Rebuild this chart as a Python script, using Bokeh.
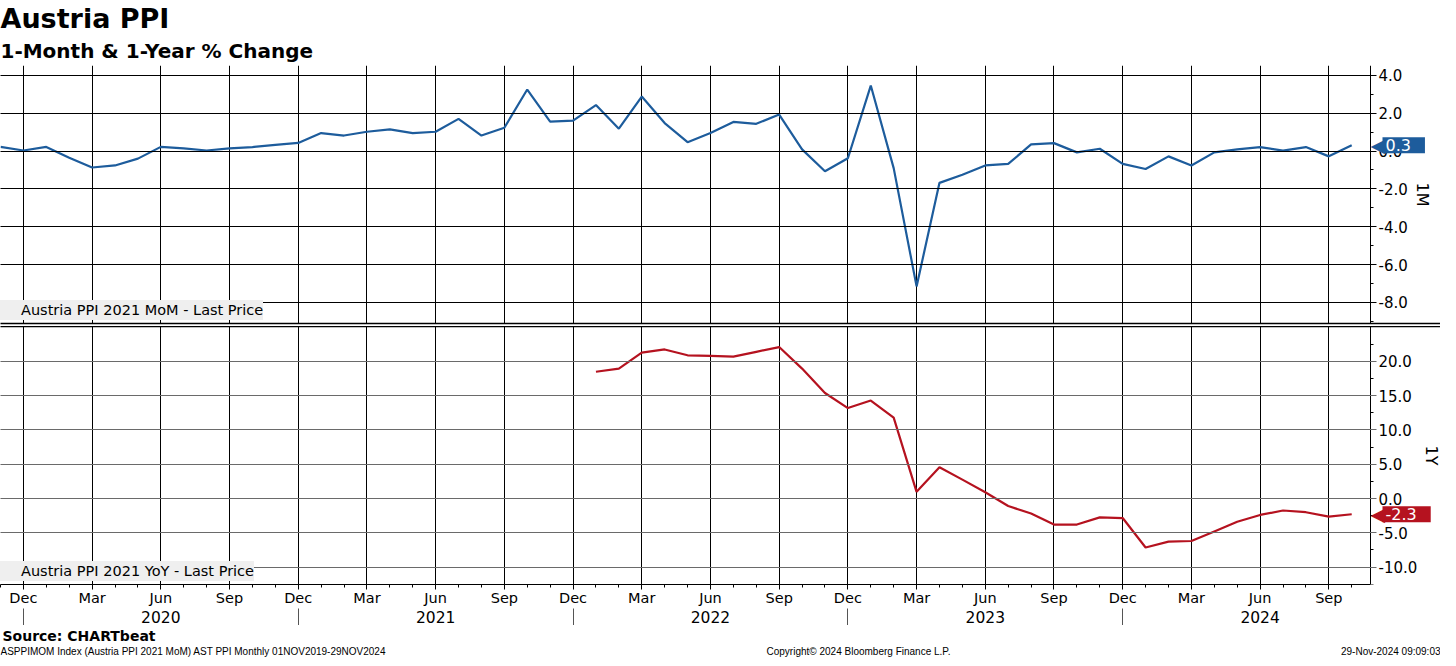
import numpy as np
import pandas as pd
from bokeh.plotting import figure
from bokeh.models import (FixedTicker, LinearAxis, Range1d, Label, Legend, LegendItem,
                          Title, NumeralTickFormatter)
from bokeh.core.properties import value
from bokeh.layouts import column
from bokeh.embed import file_html
from bokeh.resources import INLINE

# ---------------- data ----------------
months = [p.strftime("%Y-%m") for p in pd.period_range("2019-11", "2024-10", freq="M")]

mom = [0.22, 0.03,
       0.22, -0.35, -0.87, -0.76, -0.40, 0.22, 0.14, 0.03, 0.14, 0.21, 0.33, 0.43,
       0.95, 0.82, 1.02, 1.15, 0.95, 1.02, 1.70, 0.82, 1.23, 3.25, 1.56, 1.61,
       2.43, 1.18, 2.88, 1.48, 0.47, 0.95, 1.54, 1.44, 1.93, 0.09, -1.07, -0.38,
       3.46, -0.90, -7.15, -1.68, -1.25, -0.76, -0.68, 0.35, 0.42, -0.07, 0.12, -0.68,
       -0.95, -0.28, -0.76, -0.07, 0.09, 0.21, 0.02, 0.21, -0.28, 0.31]

yoy_months = months[months.index("2022-01"):]
yoy = [18.5, 18.96, 21.3, 21.75, 20.9, 20.8, 20.7, 21.4, 22.1, 18.96, 15.4, 13.2,
       14.3, 11.8, 0.97, 4.55, 2.75, 0.92, -1.1, -2.2, -3.8, -3.8, -2.75, -2.85,
       -7.15, -6.3, -6.2, -4.8, -3.4, -2.4, -1.75, -2.0, -2.65, -2.3]

mom_ticks = [-8, -6, -4, -2, 0, 2, 4]
mom_minor = [-9, -7, -5, -3, -1, 1, 3]
yoy_ticks = [-10, -5, 0, 5, 10, 15, 20]
yoy_minor = [-12.5, -7.5, -2.5, 2.5, 7.5, 12.5, 17.5, 22.5]

title_text = "Austria PPI"
subtitle_text = "1-Month & 1-Year % Change"
mom_name = "Austria PPI 2021 MoM - Last Price"
yoy_name = "Austria PPI 2021 YoY - Last Price"
source_text = "Source: CHARTbeat"
footer_left = "ASPPIMOM Index (Austria PPI 2021 MoM) AST PPI  Monthly 01NOV2019-29NOV2024"
footer_mid = "Copyright\u00a9 2024 Bloomberg Finance L.P."
footer_right = "29-Nov-2024 09:09:03"

# ---------------- derived positions ----------------
x_all = list(range(len(months)))
x_yoy = [months.index(m) for m in yoy_months]
mnum = [int(m[5:]) for m in months]
q_idx = [i for i, m in enumerate(mnum) if m in (3, 6, 9, 12)]
q_labels = {i: pd.Timestamp(months[i] + "-01").strftime("%b") for i in q_idx}
jun_idx = [i for i, m in enumerate(mnum) if m == 6]
yr_labels = {i: months[i][:4] for i in jun_idx}
dec_idx = [i for i, m in enumerate(mnum) if m == 12]

BLUE = "#1d5c9c"
RED = "#b5121f"
FONT = "DejaVu Sans"
FW, FH = 1440, 258          # frame spans the full width; data area ends at X_AX
DATA_W = 1370
X_AX = len(months) - 1 + 0.82
X_END = X_AX * FW / DATA_W


def style_y(ax, ticks, minor, label, grid_color):
    ax.fixed_location = X_AX
    ax.ticker = FixedTicker(ticks=ticks, minor_ticks=minor)
    ax.formatter = NumeralTickFormatter(format="0.0")
    ax.major_tick_out = 6
    ax.major_tick_in = DATA_W + 40     # ticks across the data area act as grid lines
    ax.minor_tick_out = 3
    ax.minor_tick_in = 0
    ax.axis_line_color = "black"
    ax.major_tick_line_color = grid_color
    ax.minor_tick_line_color = "black"
    ax.major_label_text_font = FONT
    ax.major_label_text_font_size = "15px"
    ax.major_label_text_color = "black"
    ax.major_label_standoff = 2
    ax.axis_label = label
    ax.axis_label_text_font = FONT
    ax.axis_label_text_font_size = "16px"
    ax.axis_label_text_font_style = "normal"
    ax.axis_label_text_color = "black"
    ax.axis_label_standoff = 2


def add_tag(p, yv, color):
    p.add_layout(Label(x=X_AX, y=yv, x_offset=0, text="\u25c0", text_color=color,
                       text_font_size="19px", text_baseline="middle", text_font=FONT))
    p.add_layout(Label(x=X_AX, y=yv, x_offset=12, text=f"{yv:.1f}", text_color="white",
                       text_font=FONT, text_font_size="16px", text_baseline="middle",
                       background_fill_color=color,
                       padding=dict(left=3, right=14, top=2, bottom=2)))


def add_legend(p, name, color):
    sq = p.scatter([], [], marker="square", size=9, color=color)
    leg = Legend(items=[LegendItem(label=name, renderers=[sq])], location=(0, 3),
                 margin=0, padding=5, glyph_width=20, glyph_height=20, label_standoff=1,
                 background_fill_color="#efefef", background_fill_alpha=1,
                 border_line_color=None, label_text_font=FONT,
                 label_text_font_size="14.5px", label_text_color="black")
    p.add_layout(leg)


def separator_axis(ax):
    ax.ticker = FixedTicker(ticks=[])
    ax.major_tick_out = 0
    ax.minor_tick_out = 0
    ax.major_tick_in = 0
    ax.minor_tick_in = 0
    ax.major_label_standoff = 0
    ax.axis_line_width = 1.6
    ax.axis_line_color = "black"


# ---------------- top panel ----------------
p1 = figure(frame_width=FW, frame_height=FH, x_range=Range1d(0, X_END),
            y_range=Range1d(-9.11, 4.52), y_axis_location="right",
            output_backend="svg", toolbar_location=None,
            min_border_left=0, min_border_right=0, min_border_bottom=3, min_border_top=0,
            outline_line_color=None)
p1.title.text = title_text
p1.title.text_font = FONT
p1.title.text_font_size = "27px"
p1.title.text_font_style = "bold"
p1.title.text_color = "black"
p1.title.standoff = 0
p1.title.offset = 0
p1.add_layout(Title(text=subtitle_text, text_font=FONT, text_font_size="20px",
                    text_font_style="bold", text_color="black", standoff=6, offset=0),
              "above")

style_y(p1.yaxis[0], mom_ticks, mom_minor, "1M", "black")
p1.ygrid.visible = False
separator_axis(p1.xaxis[0])
p1.xgrid.ticker = FixedTicker(ticks=q_idx)
p1.xgrid.grid_line_color = "black"

p1.line(x_all, mom, line_color=BLUE, line_width=2.2)
add_legend(p1, mom_name, BLUE)
add_tag(p1, mom[-1], BLUE)

# ---------------- bottom panel ----------------
p2 = figure(frame_width=FW, frame_height=FH, x_range=p1.x_range,
            y_range=Range1d(-12.55, 25.1), y_axis_location="right",
            output_backend="svg", toolbar_location=None,
            min_border_left=0, min_border_right=0, min_border_bottom=0, min_border_top=0,
            outline_line_color=None)

style_y(p2.yaxis[0], yoy_ticks, yoy_minor, "1Y", "#6a6a6a")
p2.ygrid.visible = False
xb = p2.xaxis[0]
xb.ticker = FixedTicker(ticks=q_idx, minor_ticks=x_all)
xb.bounds = (0, X_AX)
xb.major_label_overrides = q_labels
xb.major_label_text_font = FONT
xb.major_label_text_font_size = "14.5px"
xb.major_label_text_color = "black"
xb.major_tick_out = 5
xb.major_tick_in = 0
xb.minor_tick_out = 3
xb.minor_tick_in = 0
xb.major_label_standoff = 0
xb.axis_line_color = "black"
p2.xgrid.ticker = FixedTicker(ticks=q_idx)

yr_ax = LinearAxis(ticker=FixedTicker(ticks=jun_idx, minor_ticks=dec_idx),
                   major_label_overrides=yr_labels, major_tick_out=0, major_tick_in=0,
                   minor_tick_out=18, minor_tick_in=0, axis_line_color=None,
                   major_label_standoff=-16, major_label_text_font=FONT,
                   major_label_text_font_size="15.5px", major_label_text_color="black",
                   minor_tick_line_color="#555555")
p2.add_layout(yr_ax, "below")

top_ax = LinearAxis()
separator_axis(top_ax)
p2.add_layout(top_ax, "above")

p2.xgrid.grid_line_color = "black"

p2.line(x_yoy, yoy, line_color=RED, line_width=2.2)
add_legend(p2, yoy_name, RED)
add_tag(p2, yoy[-1], RED)

# ---------------- footer ----------------
p3 = figure(frame_width=FW, frame_height=32, x_range=Range1d(0, FW), y_range=Range1d(32, 0),
            x_axis_location=None, y_axis_location=None, output_backend="svg",
            toolbar_location=None, min_border=0, outline_line_color=None)
p3.xgrid.visible = False
p3.ygrid.visible = False
p3.text(x=[2], y=[10], text=[source_text], text_font=value(FONT), text_font_size="14px",
        text_font_style="bold", text_baseline="middle", text_color="black")
p3.text(x=[0], y=[26], text=[footer_left], text_font=value("Liberation Sans"),
        text_font_size="10px", text_baseline="middle", text_color="black")
p3.text(x=[858], y=[26], text=[footer_mid], text_font=value("Liberation Sans"),
        text_font_size="10px", text_baseline="middle", text_align="center",
        text_color="black")
p3.text(x=[1440], y=[26], text=[footer_right], text_font=value("Liberation Sans"),
        text_font_size="10px", text_baseline="middle", text_align="right",
        text_color="black")

layout = column(p1, p2, p3, spacing=0)
open("out.html", "w").write(file_html(layout, INLINE))
